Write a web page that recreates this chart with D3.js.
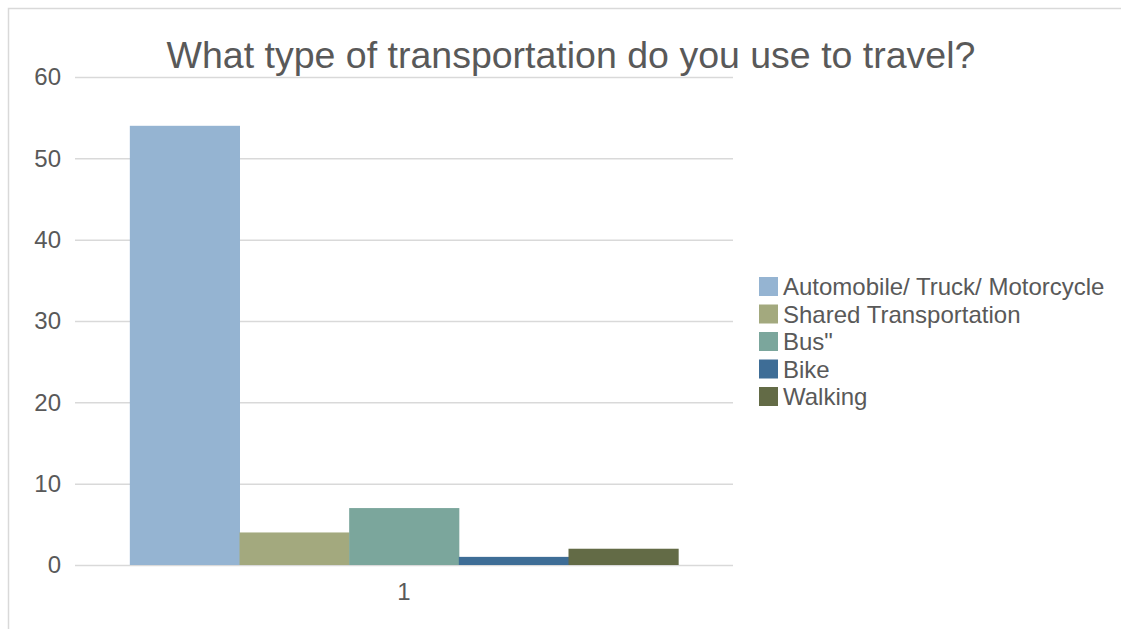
<!DOCTYPE html>
<html><head><meta charset="utf-8">
<script src="https://cdn.jsdelivr.net/npm/d3@7"></script>
<style>html,body{margin:0;padding:0;background:#fff;overflow:hidden}</style>
</head><body>
<svg id="c" width="1121" height="629"></svg>
<script>
const categories = ["1"];
const seriesNames = ["Automobile/ Truck/ Motorcycle", "Shared Transportation", "Bus\"", "Bike", "Walking"];
const seriesValues = [54, 4, 7, 1, 2];
const seriesColors = ["#95b4d2", "#a3a97e", "#7ba69c", "#3e6d96", "#636b46"];
const yTicks = [0, 10, 20, 30, 40, 50, 60];
const title = "What type of transportation do you use to travel?";

const svg = d3.select("#c");
const font = "'Liberation Sans', Arial, sans-serif";
const textColor = "#595959";

// chart border
svg.append("rect").attr("x", 8.5).attr("y", 8.5).attr("width", 1200).attr("height", 700)
  .attr("fill", "none").attr("stroke", "#d9d9d9").attr("stroke-width", 1.5);

const plot = {left: 75, right: 733, top: 77, bottom: 565};
const y = d3.scaleLinear().domain([0, 60]).range([plot.bottom, plot.top]);
const x0 = d3.scaleBand().domain(categories).range([plot.left, plot.right]).paddingInner(0).paddingOuter(0);
const gapFrac = 1 / 6;
const x1 = d3.scaleBand().domain(seriesNames)
  .range([x0.bandwidth() * gapFrac / 2, x0.bandwidth() * (1 - gapFrac / 2)]).padding(0);

// gridlines
const yAxis = d3.axisLeft(y).tickValues(yTicks).tickSize(-(plot.right - plot.left)).tickPadding(14);
const ga = svg.append("g").attr("transform", `translate(${plot.left},0)`).call(yAxis);
ga.select(".domain").remove();
ga.selectAll(".tick line").attr("stroke", "#d9d9d9").attr("stroke-width", 1.5);
ga.selectAll(".tick text").attr("fill", textColor).style("font-family", font).style("font-size", "24px");

// bars
const g = svg.append("g");
categories.forEach(cat => {
  seriesNames.forEach((s, i) => {
    g.append("rect")
      .attr("x", x0(cat) + x1(s))
      .attr("y", y(seriesValues[i]))
      .attr("width", x1.bandwidth() + 0.5)
      .attr("height", y(0) - y(seriesValues[i]))
      .attr("fill", seriesColors[i]);
  });
});

// x axis labels
const xAxis = d3.axisBottom(x0).tickSize(0).tickPadding(18);
const gx = svg.append("g").attr("transform", `translate(0,${plot.bottom})`).call(xAxis);
gx.select(".domain").remove();
gx.selectAll(".tick text").attr("fill", textColor).style("font-family", font).style("font-size", "24px");

// title
svg.append("text").attr("x", 571).attr("y", 68).attr("text-anchor", "middle")
  .attr("fill", textColor).style("font-family", font).style("font-size", "37.5px").text(title);

// legend
const lg = svg.append("g").attr("transform", "translate(759,277)");
seriesNames.forEach((s, i) => {
  const row = lg.append("g").attr("transform", `translate(0,${i * 27.5})`);
  row.append("rect").attr("x", 0).attr("y", 0).attr("width", 19).attr("height", 19).attr("fill", seriesColors[i]);
  row.append("text").attr("x", 24).attr("y", 18).attr("fill", textColor)
    .style("font-family", font).style("font-size", "24px").text(s);
});
</script>
</body></html>
